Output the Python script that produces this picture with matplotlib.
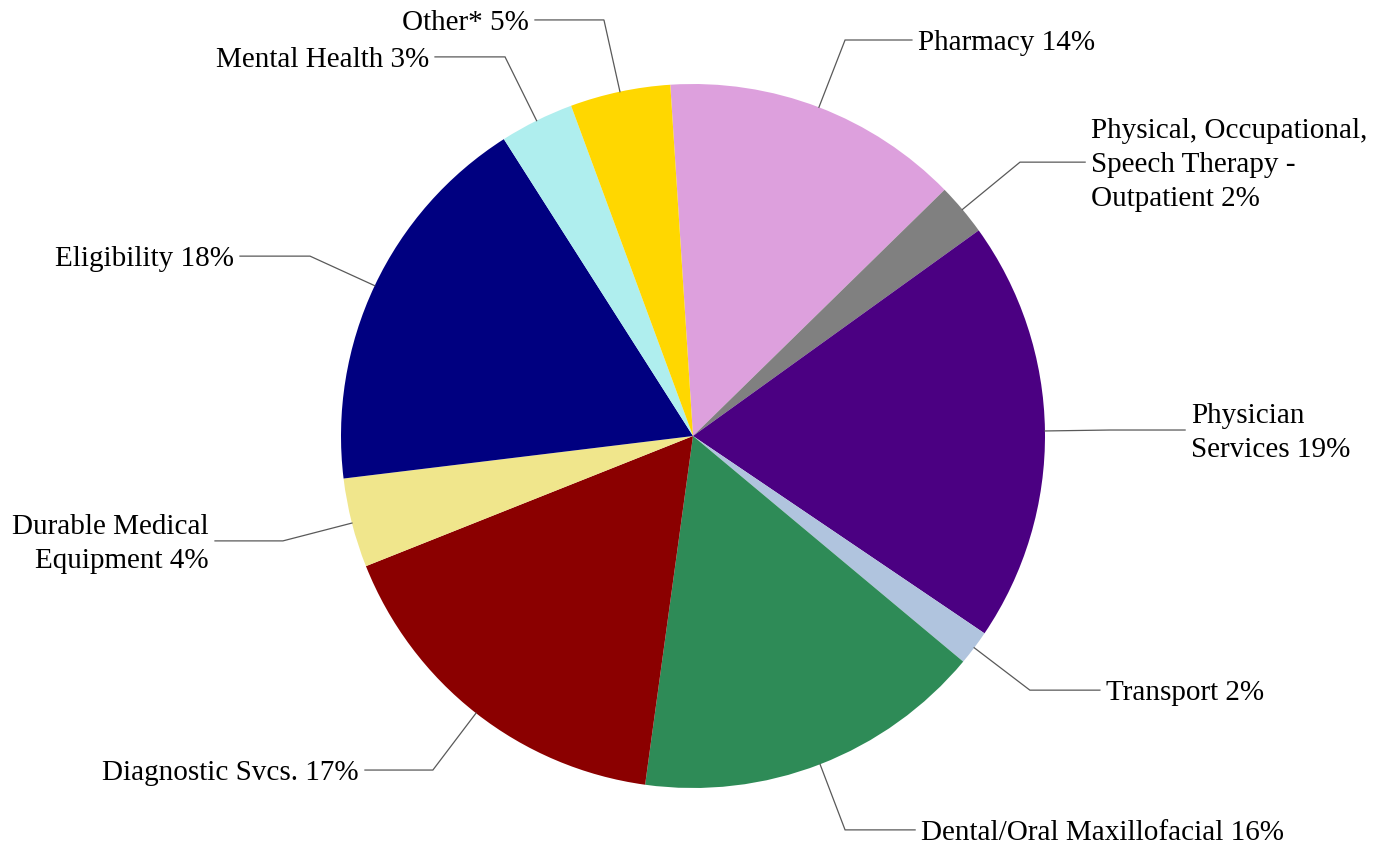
import numpy as np
import matplotlib
matplotlib.use("Agg")
import matplotlib.pyplot as plt

plt.rcParams['font.family'] = ['Liberation Serif', 'DejaVu Serif']

# share of complaints by service category (clockwise from top)
categories = [
    "Pharmacy",
    "Physical, Occupational,\nSpeech Therapy -\nOutpatient",
    "Physician\nServices",
    "Transport",
    "Dental/Oral Maxillofacial",
    "Diagnostic Svcs.",
    "Durable Medical\nEquipment",
    "Eligibility",
    "Mental Health",
    "Other*",
]
shares = [13.7, 2.4, 19.4, 1.6, 16.1, 16.8, 4.1, 17.9, 3.4, 4.6]
colors = ["#DDA0DD", "#808080", "#4B0082", "#B0C4DE", "#2E8B57",
          "#8B0000", "#F0E68C", "#000080", "#AFEEEE", "#FFD700"]

# leader line elbow and end points (pie radius = 1)
elbows = [(0.432, 1.125), (0.929, 0.778), (1.185, 0.017), (0.957, -0.722),
          (0.432, -1.119), (-0.739, -0.949), (-1.165, -0.298),
          (-1.088, 0.511), (-0.534, 1.077), (-0.253, 1.182)]
ends = [(0.622, 1.125), (1.114, 0.778), (1.398, 0.017), (1.156, -0.722),
        (0.631, -1.119), (-0.932, -0.949), (-1.358, -0.298),
        (-1.287, 0.511), (-0.733, 1.077), (-0.449, 1.182)]

fig = plt.figure(figsize=(13.87, 8.47), dpi=100)
ax = fig.add_axes([0, 0, 1, 1])

wedges, _ = ax.pie(shares, colors=colors, startangle=93.7, counterclock=False,
                   radius=1, center=(0, 0), wedgeprops=dict(linewidth=0))

for w, name, val, el, en in zip(wedges, categories, shares, elbows, ends):
    mid = np.deg2rad((w.theta1 + w.theta2) / 2)
    x0, y0 = np.cos(mid), np.sin(mid)
    ax.plot([x0, el[0], en[0]], [y0, el[1], en[1]], color="#595959", lw=0.9,
            solid_joinstyle="miter")
    right = en[0] > el[0]
    gap = 0.017 if right else -0.017
    ax.text(en[0] + gap, en[1] - 0.008, f"{name} {val:.0f}%", fontsize=21,
            ha="left" if right else "right", va="center",
            multialignment="left" if right else "right", linespacing=1.4)

ax.set_xlim(-693 / 352, 694 / 352)
ax.set_ylim(-411 / 352, 436 / 352)
ax.set_aspect("equal")
ax.axis("off")

fig.savefig("out.png", dpi=100)
